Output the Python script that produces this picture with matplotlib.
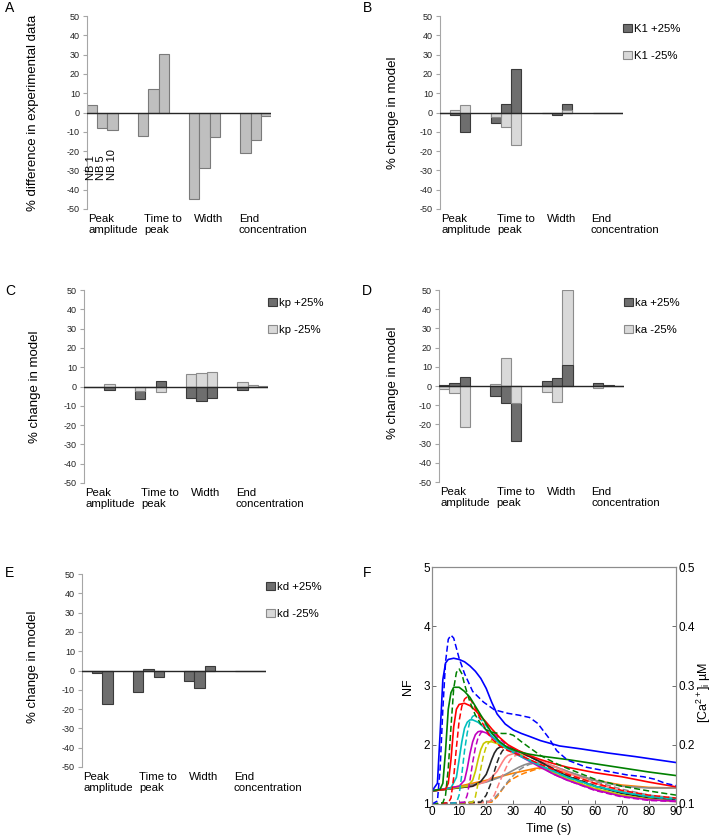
import numpy as np
import matplotlib
matplotlib.use("Agg")
import matplotlib.pyplot as plt
from matplotlib.patches import Patch

plt.rcParams['font.family'] = ['Liberation Sans', 'DejaVu Sans']
plt.rcParams['mathtext.default'] = 'regular'
plt.rcParams['axes.unicode_minus'] = False

# ---- bar panels: 4 measures x 3 NB levels ----
measures = ["Peak\namplitude", "Time to\npeak", "Width", "End\nconcentration"]
nb_levels = ["NB 1", "NB 5", "NB 10"]

exp_diff = [4.1, -8.1, -9.2, -12.4, 12.4, 30.2, -44.9, -28.5, -12.6, -21.1, -14.3, -1.6]

k1_plus = [-0.5, -1.2, -10.3, -5.2, 4.3, 22.4, -0.3, -1.2, 4.6, -0.3, -0.2, -0.1]
k1_minus = [0.0, 1.2, 3.8, -2.4, -7.6, -17.0, -0.2, -0.5, 1.5, 0.0, 0.0, 0.0]
kp_plus = [-0.3, 0.0, -1.9, -6.4, -0.5, 2.8, -5.9, -7.4, -6.0, -1.9, 0.0, -0.2]
kp_minus = [0.0, 0.0, 1.2, -2.2, -0.4, -2.9, 6.5, 7.1, 7.6, 2.4, 0.9, 0.1]
ka_plus = [0.7, 1.6, 4.9, -5.0, -9.0, -28.4, 2.4, 4.2, 10.7, 1.4, 0.3, 0.1]
ka_minus = [-1.5, -3.5, -21.1, 0.9, 14.6, -8.7, -3.3, -8.5, 50.0, -1.2, 0.0, 0.0]
kd_plus = [-0.3, -1.5, -17.6, -10.9, 1.0, -3.3, -5.2, -9.1, 2.4, -0.2, -0.2, 0.0]
kd_minus = [0.0, 0.0, 0.0, 0.0, 0.0, 0.0, 0.0, 0.0, 0.0, 0.0, 0.0, 0.0]

# ---- panel F: NF (solid) and [Ca2+]i (dashed) traces ----
blue_t = [0, 2, 3, 4, 5, 6, 8, 10, 12, 14, 16, 18, 20, 22, 24, 27, 30, 33, 36, 40, 47, 55, 65, 75, 90]
blue_nf = [1.22, 1.35, 2.2, 3.1, 3.38, 3.44, 3.46, 3.44, 3.4, 3.33, 3.24, 3.12, 2.95, 2.72, 2.52, 2.35, 2.25, 2.19, 2.14, 2.07, 1.98, 1.93, 1.86, 1.8, 1.7]
blue_ca_t = [0, 2, 3, 4, 5, 6, 7, 8, 10, 12, 15, 19, 23, 28, 32, 36, 39, 43, 46, 50, 57, 65, 72, 78, 82, 86, 90]
blue_ca = [1.0, 1.05, 1.6, 2.6, 3.4, 3.78, 3.85, 3.8, 3.46, 3.2, 2.9, 2.72, 2.59, 2.53, 2.5, 2.46, 2.36, 2.12, 1.9, 1.74, 1.62, 1.55, 1.49, 1.46, 1.42, 1.35, 1.31]

green_t = [0, 3, 4, 5, 6, 7, 8, 10, 12, 14, 16, 18, 20, 22, 25, 28, 32, 36, 40, 50, 60, 70, 80, 90]
green_nf = [1.22, 1.25, 1.35, 1.9, 2.6, 2.88, 2.97, 2.97, 2.9, 2.8, 2.65, 2.5, 2.35, 2.2, 2.05, 1.95, 1.88, 1.84, 1.81, 1.75, 1.68, 1.61, 1.54, 1.48]
green_ca_t = [0, 4, 5, 6, 7, 8, 9, 10, 11, 12, 14, 16, 18, 20, 23, 26, 28, 30, 33, 36, 40, 45, 50, 60, 70, 80, 90]
green_ca = [1.0, 1.02, 1.15, 1.6, 2.3, 2.95, 3.22, 3.28, 3.2, 3.02, 2.72, 2.5, 2.35, 2.25, 2.2, 2.19, 2.19, 2.16, 2.05, 1.95, 1.82, 1.7, 1.6, 1.42, 1.3, 1.22, 1.15]

red_t = [0, 5, 6, 7, 8, 9, 10, 12, 14, 16, 18, 20, 22, 25, 28, 32, 36, 40, 45, 50, 60, 70, 80, 90]
red_nf = [1.22, 1.25, 1.35, 1.75, 2.3, 2.6, 2.68, 2.7, 2.66, 2.58, 2.48, 2.38, 2.27, 2.12, 2.0, 1.9, 1.82, 1.75, 1.68, 1.62, 1.53, 1.46, 1.37, 1.29]
red_ca_t = [0, 6, 7, 8, 9, 10, 11, 12, 13, 14, 16, 18, 20, 22, 25, 28, 32, 36, 40, 45, 50, 60, 70, 80, 90]
red_ca = [1.0, 1.02, 1.1, 1.45, 1.95, 2.4, 2.65, 2.77, 2.81, 2.78, 2.62, 2.42, 2.25, 2.1, 1.98, 1.9, 1.83, 1.75, 1.67, 1.58, 1.5, 1.35, 1.23, 1.15, 1.1]

cyan_t = [0, 7, 9, 10, 11, 12, 13, 14, 15, 17, 19, 22, 25, 28, 32, 36, 40, 45, 50, 60, 70, 80, 90]
cyan_nf = [1.22, 1.27, 1.45, 1.75, 2.05, 2.28, 2.38, 2.42, 2.42, 2.38, 2.3, 2.15, 2.02, 1.92, 1.82, 1.73, 1.65, 1.55, 1.45, 1.3, 1.2, 1.13, 1.09]
cyan_ca_t = [0, 9, 10, 11, 12, 13, 14, 15, 16, 17, 19, 22, 25, 28, 32, 36, 40, 45, 50, 60, 70, 80, 90]
cyan_ca = [1.0, 1.02, 1.15, 1.5, 1.9, 2.2, 2.4, 2.48, 2.5, 2.47, 2.38, 2.2, 2.04, 1.93, 1.83, 1.74, 1.65, 1.55, 1.45, 1.3, 1.2, 1.12, 1.08]

magenta_t = [0, 10, 12, 13, 14, 15, 16, 17, 18, 20, 22, 25, 28, 32, 36, 40, 45, 50, 60, 70, 80, 90]
magenta_nf = [1.22, 1.3, 1.4, 1.6, 1.85, 2.05, 2.17, 2.22, 2.23, 2.2, 2.13, 2.03, 1.93, 1.82, 1.72, 1.62, 1.5, 1.4, 1.24, 1.13, 1.07, 1.05]
magenta_ca_t = [0, 12, 13, 14, 15, 16, 17, 18, 19, 20, 22, 25, 28, 32, 36, 40, 45, 50, 60, 70, 80, 90]
magenta_ca = [1.0, 1.03, 1.15, 1.4, 1.7, 1.95, 2.12, 2.2, 2.24, 2.25, 2.22, 2.1, 1.97, 1.84, 1.74, 1.63, 1.5, 1.4, 1.23, 1.12, 1.06, 1.04]

yellow_t = [0, 13, 15, 16, 17, 18, 19, 20, 22, 24, 26, 29, 32, 36, 40, 45, 50, 60, 70, 80, 90]
yellow_nf = [1.22, 1.3, 1.4, 1.55, 1.75, 1.92, 2.02, 2.05, 2.05, 2.02, 1.97, 1.9, 1.83, 1.74, 1.64, 1.52, 1.42, 1.26, 1.15, 1.08, 1.05]
yellow_ca_t = [0, 15, 16, 17, 18, 19, 20, 21, 22, 24, 27, 30, 34, 38, 42, 46, 50, 60, 70, 80, 90]
yellow_ca = [1.0, 1.03, 1.12, 1.35, 1.6, 1.82, 1.97, 2.04, 2.07, 2.05, 1.98, 1.9, 1.8, 1.7, 1.6, 1.5, 1.43, 1.27, 1.15, 1.08, 1.04]

black_t = [0, 15, 18, 20, 21, 22, 23, 24, 25, 27, 29, 32, 36, 40, 45, 50, 60, 70, 80, 90]
black_nf = [1.22, 1.3, 1.38, 1.5, 1.62, 1.75, 1.86, 1.93, 1.96, 1.97, 1.95, 1.89, 1.8, 1.71, 1.58, 1.47, 1.3, 1.18, 1.1, 1.06]
black_ca_t = [0, 18, 20, 22, 23, 24, 25, 26, 27, 28, 30, 33, 36, 40, 45, 50, 60, 70, 80, 90]
black_ca = [1.0, 1.03, 1.15, 1.38, 1.55, 1.7, 1.82, 1.9, 1.94, 1.95, 1.93, 1.87, 1.8, 1.71, 1.59, 1.48, 1.31, 1.19, 1.1, 1.07]

pink_t = [0, 15, 20, 22, 24, 25, 26, 27, 28, 30, 32, 35, 38, 41, 45, 50, 60, 70, 80, 90]
pink_nf = [1.22, 1.3, 1.38, 1.45, 1.55, 1.63, 1.71, 1.78, 1.82, 1.85, 1.85, 1.82, 1.77, 1.71, 1.63, 1.53, 1.35, 1.22, 1.13, 1.09]
pink_ca_t = [0, 21, 23, 25, 27, 28, 29, 30, 31, 33, 36, 39, 42, 46, 50, 60, 70, 80, 90]
pink_ca = [1.0, 1.03, 1.15, 1.38, 1.58, 1.68, 1.75, 1.8, 1.82, 1.83, 1.8, 1.74, 1.67, 1.58, 1.5, 1.34, 1.21, 1.13, 1.08]

gray_t = [0, 10, 20, 25, 28, 30, 32, 34, 36, 38, 40, 43, 46, 50, 60, 70, 80, 90]
gray_nf = [1.22, 1.28, 1.37, 1.45, 1.52, 1.57, 1.62, 1.66, 1.69, 1.7, 1.7, 1.67, 1.62, 1.55, 1.4, 1.3, 1.27, 1.27]
gray_ca_t = [0, 22, 25, 28, 30, 32, 34, 36, 38, 40, 42, 46, 50, 60, 70, 80, 90]
gray_ca = [1.0, 1.05, 1.2, 1.38, 1.48, 1.57, 1.63, 1.67, 1.69, 1.7, 1.68, 1.62, 1.55, 1.38, 1.25, 1.15, 1.1]

orange_t = [0, 10, 20, 25, 30, 35, 38, 40, 42, 45, 50, 55, 60, 70, 80, 90]
orange_nf = [1.22, 1.3, 1.4, 1.46, 1.52, 1.57, 1.6, 1.61, 1.6, 1.58, 1.52, 1.46, 1.4, 1.32, 1.28, 1.27]
orange_ca_t = [0, 22, 24, 26, 28, 30, 32, 34, 36, 38, 40, 42, 45, 50, 60, 70, 80, 90]
orange_ca = [1.0, 1.03, 1.12, 1.25, 1.36, 1.43, 1.48, 1.52, 1.55, 1.58, 1.6, 1.6, 1.57, 1.5, 1.35, 1.22, 1.12, 1.04]

W, H = 722, 839
fig = plt.figure(figsize=(W / 100, H / 100), dpi=100)


def px_axes(x0, y0, x1, y1):
    return fig.add_axes([x0 / W, 1 - y1 / H, (x1 - x0) / W, (y1 - y0) / H])


LABEL_X = [0.1, 5.6, 10.5, 14.85]


def bar_panel(ax, series, fills, edges, labels=None):
    x = np.array([g * 5 + j for g in range(4) for j in range(3)]) + 0.5
    vals = np.array(series, dtype=float)
    mags = np.abs(vals)
    biggest = mags.max(axis=0)
    for k in range(len(vals)):
        bars = ax.bar(x, vals[k], width=1.0, color=fills[k], edgecolor=edges[k], linewidth=0.8)
        # smaller bar sits in front of the larger one
        for b, m, mm in zip(bars, mags[k], biggest):
            b.set_zorder(3 if m < mm else 2)
    ax.axhline(0, color='#262626', lw=1.0, zorder=5)
    ax.set_xlim(0, 18)
    ax.set_ylim(-50, 50)
    ax.set_yticks(range(-50, 51, 10))
    ax.set_xticks([])
    for s in ('top', 'right', 'bottom'):
        ax.spines[s].set_visible(False)
    ax.spines['left'].set_color('#a6a6a6')
    ax.spines['left'].set_linewidth(0.8)
    ax.tick_params(axis='y', length=3, width=0.8, color='#a6a6a6', labelsize=6.5, pad=2, labelcolor='#222222')
    tr = ax.get_xaxis_transform()
    for lx, name in zip(LABEL_X, measures):
        ax.text(lx, -0.025, name, transform=tr, ha='left', va='top', fontsize=8.2, linespacing=1.15)
    if labels:
        handles = [Patch(facecolor=fills[k], edgecolor=edges[k], linewidth=0.8, label=labels[k]) for k in range(len(labels))]
        ax.legend(handles=handles, loc='upper left', bbox_to_anchor=(1.0, 0.96), frameon=False,
                  fontsize=8.2, handlelength=0.75, handleheight=0.75, handletextpad=0.25,
                  labelspacing=1.5, borderpad=0, borderaxespad=0)


DARK = '#6e6e6e'
DARK_E = '#3a3a3a'
LIGHT = '#d9d9d9'
LIGHT_E = '#8c8c8c'

axA = px_axes(87, 16, 271, 209)
bar_panel(axA, [exp_diff], ['#bfbfbf'], ['#7a7a7a'])
for j, lab in enumerate(nb_levels):
    axA.text(j + 0.4, -35, lab, rotation=90, ha='center', va='bottom', fontsize=8)

axB = px_axes(440, 16, 623, 209)
bar_panel(axB, [k1_plus, k1_minus], [DARK, LIGHT], [DARK_E, LIGHT_E], ['K1 +25%', 'K1 -25%'])

axC = px_axes(84, 290, 268, 483)
bar_panel(axC, [kp_plus, kp_minus], [DARK, LIGHT], [DARK_E, LIGHT_E], ['kp +25%', 'kp -25%'])

axD = px_axes(439, 290, 624, 482)
bar_panel(axD, [ka_plus, ka_minus], [DARK, LIGHT], [DARK_E, LIGHT_E], ['ka +25%', 'ka -25%'])

axE = px_axes(82, 574, 266, 767)
bar_panel(axE, [kd_plus, kd_minus], [DARK, LIGHT], [DARK_E, LIGHT_E], ['kd +25%', 'kd -25%'])

ylab_kw = dict(rotation=90, ha='center', va='center', fontsize=9.5)
fig.text(33 / W, 1 - 113 / H, '% difference in experimental data', **ylab_kw)
fig.text(393 / W, 1 - 113 / H, '% change in model', **ylab_kw)
fig.text(35 / W, 1 - 387 / H, '% change in model', **ylab_kw)
fig.text(393 / W, 1 - 383 / H, '% change in model', **ylab_kw)
fig.text(33 / W, 1 - 667 / H, '% change in model', **ylab_kw)

# ---- panel F ----
axF = px_axes(432, 567, 676, 804)
traces = [
    ('#0000ff', blue_t, blue_nf, blue_ca_t, blue_ca),
    ('#008000', green_t, green_nf, green_ca_t, green_ca),
    ('#ff0000', red_t, red_nf, red_ca_t, red_ca),
    ('#00bfbf', cyan_t, cyan_nf, cyan_ca_t, cyan_ca),
    ('#bf00bf', magenta_t, magenta_nf, magenta_ca_t, magenta_ca),
    ('#c8c800', yellow_t, yellow_nf, yellow_ca_t, yellow_ca),
    ('#262626', black_t, black_nf, black_ca_t, black_ca),
    ('#ff8080', pink_t, pink_nf, pink_ca_t, pink_ca),
    ('#8c8c8c', gray_t, gray_nf, gray_ca_t, gray_ca),
    ('#ff8000', orange_t, orange_nf, orange_ca_t, orange_ca),
]
for col, t1, y1, t2, y2 in reversed(traces):
    axF.plot(t2, y2, color=col, lw=1.1, ls=(0, (4, 2)))
    axF.plot(t1, y1, color=col, lw=1.2)
axF.set_xlim(0, 90)
axF.set_ylim(1, 5)
axF.set_xticks(range(0, 91, 10))
axF.set_yticks(range(1, 6))
axF.tick_params(direction='in', length=3, width=0.6, labelsize=8.5, color='#555555', pad=1.5)
for s in axF.spines.values():
    s.set_color('#8c8c8c')
    s.set_linewidth(0.8)
axF2 = axF.twinx()
axF2.set_ylim(0.1, 0.5)
axF2.set_yticks([0.1, 0.2, 0.3, 0.4, 0.5])
axF2.set_yticklabels(['0.1', '0.2', '0.3', '0.4', '0.5'])
axF2.tick_params(direction='in', length=3, width=0.6, labelsize=8.5, color='#555555', pad=1.5)
for s in axF2.spines.values():
    s.set_color('#8c8c8c')
    s.set_linewidth(0.8)
fig.text(408 / W, 1 - 687 / H, 'NF', rotation=90, ha='center', va='center', fontsize=9)
fig.text(704 / W, 1 - 692 / H, '[Ca$^{2+}$]$_i$ \u00b5M', rotation=90, ha='center', va='center', fontsize=9)
fig.text(549 / W, 1 - 829 / H, 'Time (s)', ha='center', va='center', fontsize=9)

# panel letters
for lab, (px, py) in zip('ABCDEF', [(10, 8), (367, 8), (10, 291), (367, 291), (10, 573), (367, 573)]):
    fig.text(px / W, 1 - py / H, lab, ha='center', va='center', fontsize=10)

fig.savefig('out.png', dpi=100)
